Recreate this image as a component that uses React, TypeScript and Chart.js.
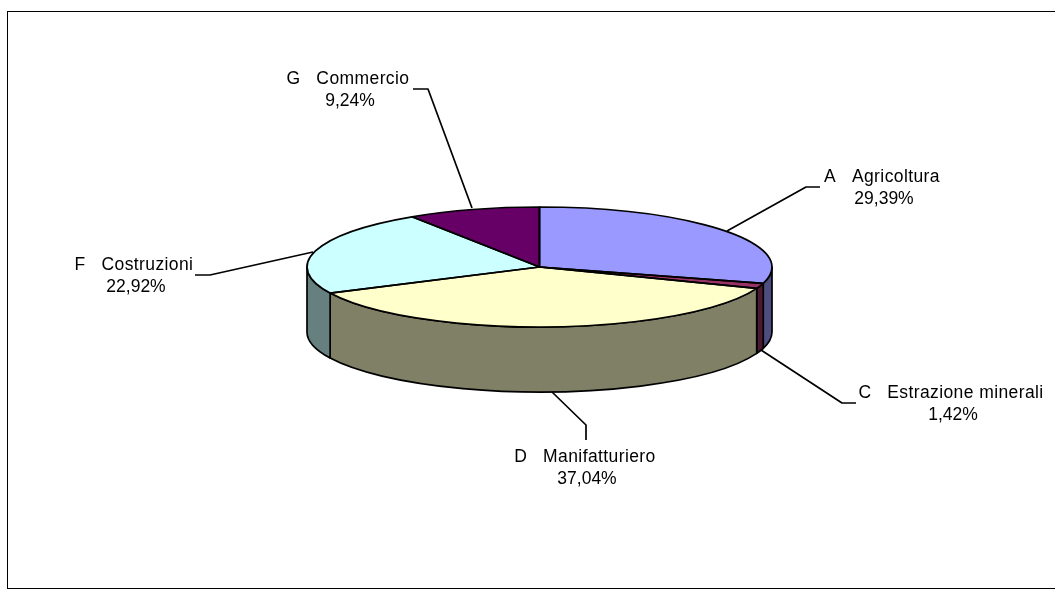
import React, { useEffect, useRef } from "react";
import { Chart, registerables } from "chart.js";

Chart.register(...registerables);

const categories = [
  "A   Agricoltura",
  "C   Estrazione minerali",
  "D   Manifatturiero",
  "F   Costruzioni",
  "G   Commercio",
];
const shares = [29.39, 1.42, 37.04, 22.92, 9.24];
const topColors = ["#9999ff", "#993366", "#ffffcc", "#ccffff", "#660066"];
const sideColors = ["#4d4d80", "#4d1a33", "#808066", "#668080", "#330033"];

// [label centre x, first baseline y], then the leader polyline from pie to label
const labelCentres = [
  [882, 182],
  [951, 398],
  [585, 462],
  [134, 270],
  [348, 84],
];
const leaders = [
  [[727, 231], [806, 187], [820, 187]],
  [[761, 350], [842, 403], [856, 403]],
  [[552, 392], [586, 425], [586, 440]],
  [[313, 252], [210, 275], [195, 275]],
  [[472, 208], [428, 89], [413, 89]],
];

const SQUASH = 60 / 232.5;
const DEPTH = 65;
const LINE = 1.7;

const pie3d = {
  id: "pie3d",
  beforeDraw(chart: any) {
    const { ctx } = chart;
    ctx.save();
    ctx.fillStyle = "#ffffff";
    ctx.fillRect(0, 0, chart.width, chart.height);
    ctx.strokeStyle = "#000000";
    ctx.lineWidth = 1;
    ctx.strokeRect(7.5, 11.5, 1060, 577);
    ctx.restore();
  },
  beforeDatasetsDraw(chart: any) {
    const { ctx } = chart;
    const arcs = chart.getDatasetMeta(0).data;
    ctx.save();
    ctx.strokeStyle = "#000000";
    ctx.lineWidth = LINE;
    ctx.lineJoin = "round";
    arcs.forEach((arc: any, i: number) => {
      const s = Math.max(arc.startAngle, 0);
      const e = Math.min(arc.endAngle, Math.PI);
      if (e <= s) return;
      const rx = arc.outerRadius;
      const ry = rx * SQUASH;
      ctx.beginPath();
      ctx.ellipse(arc.x, arc.y, rx, ry, 0, s, e);
      ctx.ellipse(arc.x, arc.y + DEPTH, rx, ry, 0, e, s, true);
      ctx.closePath();
      ctx.fillStyle = sideColors[i];
      ctx.fill();
      ctx.stroke();
    });
    ctx.restore();
    // squash the library's own arcs into the top ellipse
    const a = arcs[0];
    ctx.save();
    ctx.translate(a.x, a.y);
    ctx.scale(1, SQUASH);
    ctx.translate(-a.x, -a.y);
  },
  afterDatasetsDraw(chart: any) {
    const { ctx } = chart;
    ctx.restore();
    const arcs = chart.getDatasetMeta(0).data;
    ctx.save();
    ctx.strokeStyle = "#000000";
    ctx.lineWidth = LINE;
    ctx.lineJoin = "round";
    arcs.forEach((arc: any) => {
      const rx = arc.outerRadius;
      ctx.beginPath();
      ctx.moveTo(arc.x, arc.y);
      ctx.ellipse(arc.x, arc.y, rx, rx * SQUASH, 0, arc.startAngle, arc.endAngle);
      ctx.closePath();
      ctx.stroke();
    });
    leaders.forEach((pts) => {
      ctx.beginPath();
      pts.forEach(([x, y], k) => (k ? ctx.lineTo(x, y) : ctx.moveTo(x, y)));
      ctx.stroke();
    });
    ctx.fillStyle = "#000000";
    ctx.font = '17.5px "Liberation Sans", Arial, sans-serif';
    ctx.textAlign = "center";
    ctx.textBaseline = "alphabetic";
    categories.forEach((name, i) => {
      const [x, y] = labelCentres[i];
      (ctx as any).letterSpacing = "0.4px";
      ctx.fillText(name, x, y);
      (ctx as any).letterSpacing = "0px";
      ctx.fillText(shares[i].toFixed(2).replace(".", ",") + "%", x + 2, y + 22);
    });
    ctx.restore();
  },
};

export default function App() {
  const ref = useRef<HTMLCanvasElement>(null);
  useEffect(() => {
    const chart = new Chart(ref.current!, {
      type: "pie",
      data: {
        labels: categories,
        datasets: [
          {
            data: shares,
            backgroundColor: topColors,
            borderWidth: 0,
          },
        ],
      },
      options: {
        responsive: false,
        animation: false,
        layout: { padding: { left: 307, right: 283, top: 34.5, bottom: 89.5 } },
        plugins: { legend: { display: false }, tooltip: { enabled: false } },
      },
      plugins: [pie3d],
    } as any);
    return () => chart.destroy();
  }, []);
  return (
    <canvas
      ref={ref}
      width={1055}
      height={589}
      style={{ position: "absolute", left: 0, top: 0, display: "block", width: 1055, height: 589 }}
    />
  );
}
